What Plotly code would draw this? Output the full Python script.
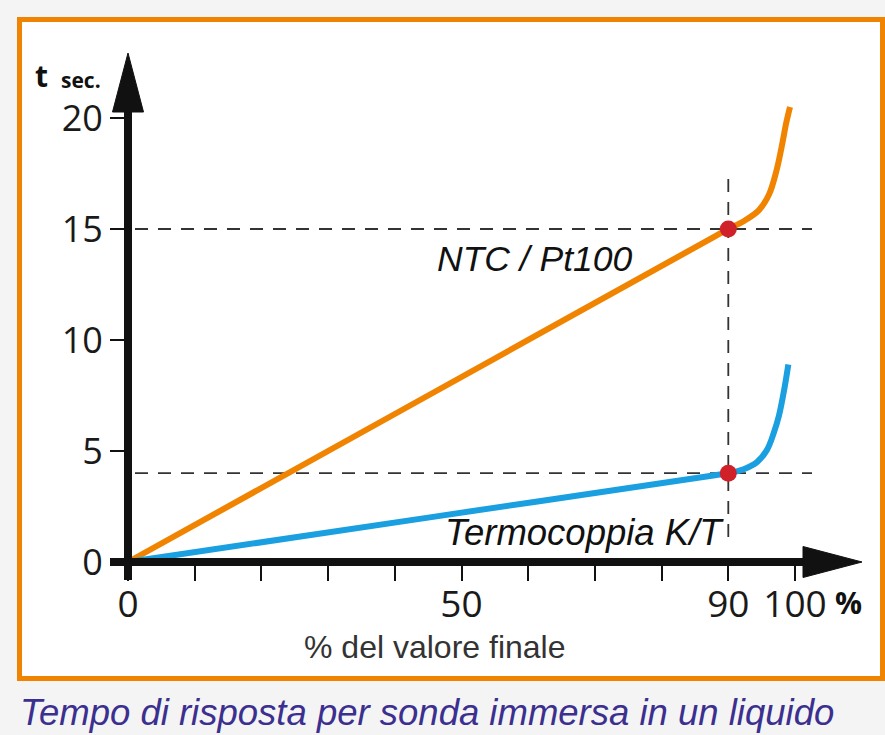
import plotly.graph_objects as go

# ---- data -------------------------------------------------------------
# response curves: % of final value reached vs time in seconds
ntc_pct = [0, 45, 88, 90, 92.3, 94.6, 96.1, 97.2, 98.0, 98.7, 99.25]
ntc_sec = [0, 7.5, 14.67, 15, 15.35, 15.85, 16.55, 17.6, 18.7, 19.8, 20.5]

tc_pct = [0, 45, 88, 90, 92.3, 94.3, 95.8, 96.8, 97.6, 98.4, 99.0]
tc_sec = [0, 2.0, 3.91, 4, 4.18, 4.5, 5.05, 5.8, 6.6, 7.8, 8.9]

# reference points at 90 % of the final value
mark_pct = [90, 90]
mark_sec = [15, 4]

x_tickvals = [0, 10, 20, 30, 40, 50, 60, 70, 80, 90, 100]
x_ticktext = ["0", "", "", "", "", "50", "", "", "", "90", "100"]
y_tickvals = [0, 5, 10, 15, 20]
y_ticktext = ["0", "5", "10", "15", "20"]

label_ntc = "NTC / Pt100"
label_tc = "Termocoppia K/T"
x_title = "% del valore finale"
caption = "Tempo di risposta per sonda immersa in un liquido"

# ---- page geometry ----------------------------------------------------
W, H = 885, 735
X0_PX, X100_PX = 128, 795      # pixel column of 0 % and 100 %
Y0_PX, Y20_PX = 562, 118       # pixel row of 0 s and 20 s
SX = (X100_PX - X0_PX) / 100.0
SY = (Y0_PX - Y20_PX) / 20.0

ORANGE = "#f08400"
BLUE = "#1a9fe0"
RED = "#d0202a"
INK = "#111111"


def px(x):
    return x / W


def py(y):
    return 1 - y / H


fig = go.Figure()

fig.add_trace(go.Scatter(x=ntc_pct, y=ntc_sec, mode="lines",
                         line=dict(color=ORANGE, width=6, shape="spline", smoothing=1.0),
                         hoverinfo="skip", showlegend=False))
fig.add_trace(go.Scatter(x=tc_pct, y=tc_sec, mode="lines",
                         line=dict(color=BLUE, width=6, shape="spline", smoothing=1.0),
                         hoverinfo="skip", showlegend=False))
fig.add_trace(go.Scatter(x=mark_pct, y=mark_sec, mode="markers",
                         marker=dict(color=RED, size=17),
                         hoverinfo="skip", showlegend=False))

shapes = []
# orange frame around the chart
shapes.append(dict(type="rect", xref="paper", yref="paper",
                   x0=px(19.5), x1=px(882.5), y0=py(678.5), y1=py(19.5),
                   line=dict(color=ORANGE, width=5), fillcolor="white", layer="below"))

# dashed guides through the 90 % points
dash = dict(color="#333333", width=1.8, dash="13px,10px")
for s in mark_sec:
    shapes.append(dict(type="line", xref="paper", yref="y",
                       x0=px(135), x1=px(812), y0=s, y1=s, line=dash, layer="below"))
shapes.append(dict(type="line", xref="x", yref="paper",
                   x0=mark_pct[0], x1=mark_pct[0], y0=py(537), y1=py(175),
                   line=dash, layer="below"))

# thick axes with arrow heads
shapes.append(dict(type="line", xref="paper", yref="paper",
                   x0=px(110), x1=px(806), y0=py(Y0_PX), y1=py(Y0_PX),
                   line=dict(color=INK, width=8), layer="above"))
shapes.append(dict(type="line", xref="paper", yref="paper",
                   x0=px(X0_PX), x1=px(X0_PX), y0=py(580), y1=py(110),
                   line=dict(color=INK, width=8), layer="above"))
shapes.append(dict(type="path", xref="paper", yref="paper",
                   path=f"M {px(803)} {py(546.5)} L {px(862)} {py(Y0_PX)} L {px(803)} {py(577.5)} Z",
                   fillcolor=INK, line=dict(color=INK, width=1), layer="above"))
shapes.append(dict(type="path", xref="paper", yref="paper",
                   path=f"M {px(112.5)} {py(112)} L {px(X0_PX)} {py(53)} L {px(143.5)} {py(112)} Z",
                   fillcolor=INK, line=dict(color=INK, width=1), layer="above"))


def label(text, x, y, family, size, color=INK):
    return dict(text=text, x=px(x), y=py(y), xref="paper", yref="paper",
                xanchor="center", yanchor="middle", showarrow=False,
                font=dict(family=family, size=size, color=color))


annotations = [
    label(f"<i>{label_ntc}</i>", 535, 259, "Liberation Sans", 35.5),
    label(f"<i>{label_tc}</i>", 584, 532, "Liberation Sans", 36.5),
    label(x_title, 434, 647, "Liberation Sans", 32, "#333333"),
    label("<b>%</b>", 848, 602, "Open Sans", 30),
    label("<b>t</b>", 41, 76, "Open Sans", 30),
    label("<b>sec.</b>", 80.5, 80, "Open Sans", 21),
    label(f"<i>{caption}</i>", 427, 712, "Liberation Sans", 36.5, "#3b2f8f"),
]

fig.update_layout(
    width=W, height=H,
    margin=dict(l=0, r=0, t=0, b=0),
    paper_bgcolor="#f4f4f4",
    plot_bgcolor="rgba(0,0,0,0)",
    showlegend=False,
    shapes=shapes,
    annotations=annotations,
    xaxis=dict(range=[(0 - X0_PX) / SX, (W - X0_PX) / SX], fixedrange=True,
               showgrid=False, zeroline=False, showline=False,
               anchor="free", position=py(Y0_PX),
               tickvals=x_tickvals, ticktext=x_ticktext,
               ticks="outside", ticklen=18, tickwidth=1.5, tickcolor=INK,
               ticklabelstandoff=-8,
               tickfont=dict(family="Open Sans", size=37, color="#1a1a1a")),
    yaxis=dict(range=[(Y0_PX - H) / SY, Y0_PX / SY], fixedrange=True,
               showgrid=False, zeroline=False, showline=False,
               anchor="free", position=px(X0_PX),
               tickvals=y_tickvals, ticktext=y_ticktext,
               ticks="outside", ticklen=18, tickwidth=1.5, tickcolor=INK,
               tickfont=dict(family="Open Sans", size=36, color="#1a1a1a")),
)

fig.write_html("out.html")
